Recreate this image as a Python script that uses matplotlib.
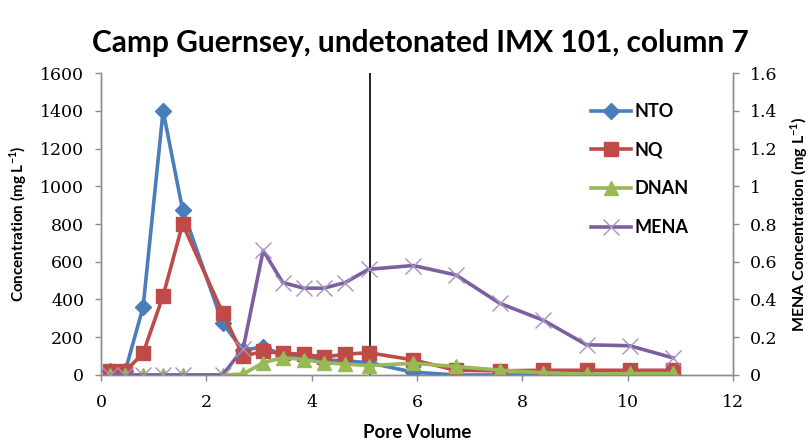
import matplotlib
matplotlib.use("Agg")
import matplotlib.pyplot as plt

# Pore volumes sampled for column 7
pore_volume = [0.17, 0.46, 0.8, 1.18, 1.55, 2.31, 2.7, 3.08, 3.45, 3.85, 4.23, 4.64, 5.08,
               5.93, 6.74, 7.57, 8.4, 9.22, 10.04, 10.87]

# Effluent concentrations (mg/L)
nto = [20, 20, 360, 1400, 875, 275, 130, 150, 105, 95, 80, 75, 65,
       15, 0, 0, 0, 0, 0, 0]
nq = [20, 20, 115, 420, 800, 330, 100, 125, 115, 110, 95, 110, 118,
      80, 25, 22, 25, 25, 25, 25]
dnan = [0, 0, 0, 0, 0, 0, 5, 65, 92, 82, 65, 58, 50,
        62, 45, 26, 12, 5, 8, 8]
mena = [0, 0, 0, 0, 0, 0, 0.14, 0.66, 0.49, 0.46, 0.46, 0.49, 0.56,
        0.58, 0.53, 0.38, 0.29, 0.16, 0.155, 0.09]

breakthrough_pv = 5.11

x_ticks = [0, 2, 4, 6, 8, 10, 12]
y_ticks = [0, 200, 400, 600, 800, 1000, 1200, 1400, 1600]
y2_ticks = [0, 0.2, 0.4, 0.6, 0.8, 1.0, 1.2, 1.4, 1.6]
y2_labels = ["0", "0.2", "0.4", "0.6", "0.8", "1", "1.2", "1.4", "1.6"]

label_font = "Lato"
tick_font = "DejaVu Serif"

fig = plt.figure(figsize=(8.09, 4.42), dpi=100)
ax = fig.add_axes([0.1248, 0.1516, 0.7812, 0.6832])
ax2 = ax.twinx()

c_nto = "#4A7EBB"
c_nq = "#BE4B48"
c_dnan = "#98B954"
c_mena = "#7D5FA0"

ln1, = ax.plot(pore_volume, nto, color=c_nto, lw=2.6, marker="D", ms=8,
               mfc=c_nto, mec=c_nto, label="NTO", zorder=3)
ln2, = ax.plot(pore_volume, nq, color=c_nq, lw=2.6, marker="s", ms=10,
               mfc=c_nq, mec=c_nq, label="NQ", zorder=4)
ln3, = ax.plot(pore_volume, dnan, color=c_dnan, lw=2.6, marker="^", ms=10,
               mfc=c_dnan, mec=c_dnan, label="DNAN", zorder=5)
ln4, = ax2.plot(pore_volume, mena, color=c_mena, lw=2.6, marker="x", ms=12,
                mec="#A592C4", mew=1.0, label="MENA", zorder=6)

ax.axvline(breakthrough_pv, color="black", lw=1.2, zorder=2)

ax.set_xlim(0, 12)
ax.set_ylim(0, 1600)
ax2.set_ylim(0, 1.6)

ax.set_xticks(x_ticks)
ax.set_yticks(y_ticks)
ax2.set_yticks(y2_ticks)
ax2.set_yticklabels(y2_labels)

for a in (ax, ax2):
    a.spines["top"].set_visible(False)
    for s in ("left", "right", "bottom"):
        a.spines[s].set_color("#8C8C8C")
        a.spines[s].set_linewidth(1.0)
    a.tick_params(direction="out", length=4, color="#8C8C8C", width=1.0,
                  labelsize=12.5, pad=8)
    for lab in a.get_xticklabels() + a.get_yticklabels():
        lab.set_fontfamily(tick_font)
ax.tick_params(axis="x", pad=10)

ax.set_xlabel("Pore Volume", fontsize=13.5, fontweight="bold",
              fontfamily=label_font, labelpad=9)
ax.set_ylabel("Concentration (mg L$^{\\mathregular{-1}}$)", fontsize=11,
              fontweight="bold", fontfamily=label_font, labelpad=8)
ax2.set_ylabel("MENA Concentration (mg L$^{\\mathregular{-1}}$)", fontsize=11.5,
               fontweight="bold", fontfamily=label_font, labelpad=8)

fig.suptitle("Camp Guernsey, undetonated IMX 101, column 7", x=0.52, y=0.935,
             fontsize=21.5, fontfamily=label_font, fontweight="bold")

leg = ax.legend(handles=[ln1, ln2, ln3, ln4], loc="upper left",
                bbox_to_anchor=(0.75, 0.955), frameon=False,
                labelspacing=1.2, handlelength=2.2, handletextpad=0.2,
                prop={"family": label_font, "weight": "bold", "size": 13})

fig.savefig("out.png", dpi=100)
